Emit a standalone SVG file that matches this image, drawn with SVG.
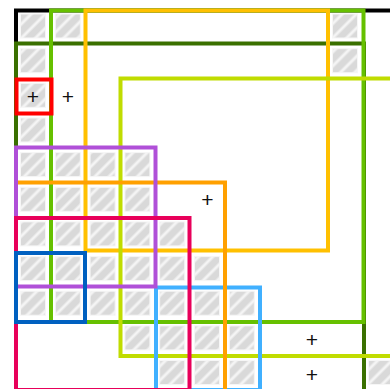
<svg xmlns="http://www.w3.org/2000/svg" width="390" height="389" viewBox="0 0 390 389">
<defs>
<pattern id="hatch" patternUnits="userSpaceOnUse" width="10" height="10" patternTransform="rotate(45)">
<rect width="10" height="10" fill="#d9d9d9"/>
<line x1="2" y1="0" x2="2" y2="10" stroke="#f4f4f4" stroke-width="3"/>
</pattern>
</defs>
<style>
.frame{fill:none;stroke-width:4;stroke-linejoin:miter}
.cell{fill:url(#hatch);stroke:#f6f6f6;stroke-width:1}
.plus{font-family:"Liberation Sans",Arial,sans-serif;font-size:21px;fill:#111;text-anchor:middle}
</style>
<rect width="390" height="389" fill="#fff"/>
<g id="cells">
<rect class="cell" x="20.5" y="14" width="25" height="24"/>
<rect class="cell" x="55.3" y="14" width="25" height="24"/>
<rect class="cell" x="332.5" y="14" width="25" height="24"/>
<rect class="cell" x="20.5" y="48.7" width="25" height="24"/>
<rect class="cell" x="332.5" y="48.7" width="25" height="24"/>
<rect class="cell" x="20.5" y="83.3" width="25" height="24"/>
<rect class="cell" x="20.5" y="118" width="25" height="24"/>
<rect class="cell" x="20.5" y="152.6" width="25" height="24"/>
<rect class="cell" x="55.3" y="152.6" width="25" height="24"/>
<rect class="cell" x="90.1" y="152.6" width="25" height="24"/>
<rect class="cell" x="124.9" y="152.6" width="25" height="24"/>
<rect class="cell" x="20.5" y="187.3" width="25" height="24"/>
<rect class="cell" x="55.3" y="187.3" width="25" height="24"/>
<rect class="cell" x="90.1" y="187.3" width="25" height="24"/>
<rect class="cell" x="124.9" y="187.3" width="25" height="24"/>
<rect class="cell" x="20.5" y="221.9" width="25" height="24"/>
<rect class="cell" x="55.3" y="221.9" width="25" height="24"/>
<rect class="cell" x="90.1" y="221.9" width="25" height="24"/>
<rect class="cell" x="124.9" y="221.9" width="25" height="24"/>
<rect class="cell" x="159.7" y="221.9" width="25" height="24"/>
<rect class="cell" x="20.5" y="256.6" width="25" height="24"/>
<rect class="cell" x="55.3" y="256.6" width="25" height="24"/>
<rect class="cell" x="90.1" y="256.6" width="25" height="24"/>
<rect class="cell" x="124.9" y="256.6" width="25" height="24"/>
<rect class="cell" x="159.7" y="256.6" width="25" height="24"/>
<rect class="cell" x="194.5" y="256.6" width="25" height="24"/>
<rect class="cell" x="20.5" y="291.2" width="25" height="24"/>
<rect class="cell" x="55.3" y="291.2" width="25" height="24"/>
<rect class="cell" x="90.1" y="291.2" width="25" height="24"/>
<rect class="cell" x="124.9" y="291.2" width="25" height="24"/>
<rect class="cell" x="159.7" y="291.2" width="25" height="24"/>
<rect class="cell" x="194.5" y="291.2" width="25" height="24"/>
<rect class="cell" x="229.3" y="291.2" width="25" height="24"/>
<rect class="cell" x="124.9" y="325.9" width="25" height="24"/>
<rect class="cell" x="159.7" y="325.9" width="25" height="24"/>
<rect class="cell" x="194.5" y="325.9" width="25" height="24"/>
<rect class="cell" x="229.3" y="325.9" width="25" height="24"/>
<rect class="cell" x="159.7" y="360.5" width="25" height="24"/>
<rect class="cell" x="194.5" y="360.5" width="25" height="24"/>
<rect class="cell" x="229.3" y="360.5" width="25" height="24"/>
<rect class="cell" x="368.5" y="360.5" width="25" height="24"/>
</g>
<g id="marks">
<text class="plus" x="33" y="104">+</text>
<text class="plus" x="68" y="104">+</text>
<text class="plus" x="207.5" y="207">+</text>
<text class="plus" x="312" y="346.5">+</text>
<text class="plus" x="312" y="381.5">+</text>
</g>
<g id="connectors">
<rect id="black" class="frame" stroke="#000000" x="16" y="10.5" width="400" height="400"/>
<rect id="darkgreen" class="frame" stroke="#3a7000" x="16" y="43.5" width="348" height="400"/>
<rect id="lime" class="frame" stroke="#66c000" x="51" y="10.5" width="312.5" height="311.5"/>
<rect id="yellow" class="frame" stroke="#ffc000" x="85.5" y="10.5" width="242.5" height="240"/>
<rect id="yellowgreen" class="frame" stroke="#c0dc00" x="120.5" y="78.5" width="300" height="277.5"/>
<rect id="lightblue" class="frame" stroke="#40b0ff" x="156" y="287.5" width="104" height="102.5"/>
<rect id="orange" class="frame" stroke="#ffa000" x="16" y="182.5" width="209" height="240"/>
<rect id="purple" class="frame" stroke="#b050d8" x="16" y="147.5" width="139.5" height="139"/>
<rect id="crimson" class="frame" stroke="#e8005a" x="16" y="218" width="173.5" height="172"/>
<rect id="blue" class="frame" stroke="#0060c0" x="16" y="253" width="69" height="69"/>
<rect id="red" class="frame" stroke="#ff0000" x="16.5" y="79.5" width="35" height="34"/>
</g>
</svg>
